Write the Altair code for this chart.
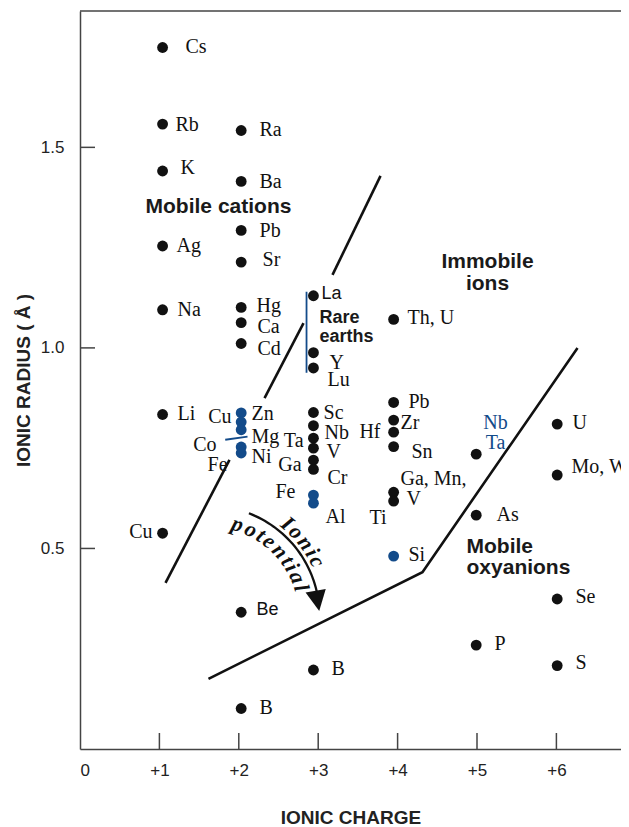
import math
import altair as alt
import pandas as pd

# ---------------- layout constants ----------------
W, H = 541, 738
PXX, PXY = 79.4, 401.1
XMAX, YMAX = W / PXX, H / PXY

INK = "#111111"
BLUE = "#134b8a"
FRAME = "#444444"
SERIF = "Liberation Serif"
SANS = "Liberation Sans"

# ---------------- data: ionic radius per charge column ----------------
col_x = [1.04, 2.03, 2.94, 3.95, 4.99, 6.01]
col1 = [1.749, 1.558, 1.441, 1.254, 1.095, 0.834, 0.538]
col2_black = [1.542, 1.415, 1.293, 1.214, 1.101, 1.063, 1.011, 0.341, 0.101]
col2_blue = [0.838, 0.815, 0.796, 0.753, 0.738]
col3_black = [1.130, 0.988, 0.950, 0.839, 0.806, 0.775, 0.750, 0.720, 0.697, 0.197]
col3_blue = [0.633, 0.613]
col4_black = [1.071, 0.864, 0.820, 0.790, 0.754, 0.640, 0.618]
col4_blue = [0.481]
col5 = [0.735, 0.583, 0.259]
col6 = [0.810, 0.683, 0.374, 0.208]

# ---------------- labels ----------------
lab_text = ["Cs", "Rb", "K", "Ag", "Na", "Li", "Cu",
            "Ra", "Ba", "Pb", "Sr", "Hg", "Ca", "Cd", "Cu", "Zn", "Mg", "Co", "Ni", "Fe", "Be", "B",
            "La", "Y", "Lu", "Sc", "Nb", "Ta", "V", "Ga", "Cr", "Fe", "Al", "B",
            "Th, U", "Pb", "Zr", "Hf", "Sn", "Ga, Mn,", "V", "Ti", "Si",
            "Nb", "Ta", "As", "P",
            "U", "Mo, W", "Se", "S"]
lab_x = [1.329, 1.203, 1.266, 1.215, 1.228, 1.228, 0.913,
         2.261, 2.261, 2.261, 2.299, 2.223, 2.235, 2.235, 1.908, 2.160, 2.160, 1.719, 2.160, 1.858, 2.223, 2.261,
         3.042, 3.142, 3.117, 3.067, 3.079, 2.815, 3.104, 2.790, 3.117, 2.714, 3.092, 3.167,
         4.125, 4.137, 4.036, 3.785, 4.175, 4.036, 4.112, 3.646, 4.137,
         5.233, 5.233, 5.246, 5.221,
         6.203, 6.190, 6.240, 6.240]
lab_y = [1.751, 1.556, 1.448, 1.254, 1.095, 0.835, 0.541,
         1.544, 1.414, 1.292, 1.219, 1.105, 1.052, 0.998, 0.828, 0.835, 0.778, 0.758, 0.728, 0.708, 0.347, 0.102,
         1.135, 0.963, 0.920, 0.838, 0.788, 0.768, 0.741, 0.708, 0.676, 0.641, 0.579, 0.200,
         1.075, 0.865, 0.813, 0.791, 0.741, 0.673, 0.623, 0.576, 0.484,
         0.813, 0.763, 0.584, 0.262,
         0.813, 0.703, 0.379, 0.214]
lab_align = ["left"] * 6 + ["right"] + \
            ["left"] * 7 + ["right", "left", "left", "right", "left", "right", "left", "left"] + \
            ["left"] * 5 + ["right", "left", "right", "left", "right", "left", "left"] + \
            ["left"] * 3 + ["right"] + ["left"] * 5 + \
            ["center", "center", "left", "left"] + ["left"] * 4
lab_kind = ["serif"] * 20 + ["sans", "serif"] + ["sans"] + ["serif"] * 11 + \
           ["serif"] * 9 + ["blue", "blue", "serif", "serif"] + ["serif"] * 4

reg_text = ["Mobile cations", "Immobile", "ions", "Mobile", "oxyanions", "Rare", "earths"]
reg_x = [1.744, 5.132, 5.132, 4.868, 4.868, 3.016, 3.016]
reg_y = [1.352, 1.214, 1.160, 0.504, 0.451, 1.075, 1.027]
reg_align = ["center", "center", "center", "left", "left", "left", "left"]
reg_kind = ["big"] * 5 + ["small"] * 2

# boundary lines (segments)
seg_id = [0, 0, 1, 1, 2, 2, 3, 3, 3]
seg_x = [1.077, 1.883, 2.324, 2.815, 3.180, 3.785, 1.618, 4.313, 6.266]
seg_y = [0.414, 0.721, 0.875, 1.062, 1.182, 1.429, 0.175, 0.441, 1.000]

# blue bracket lines
blu_id = [0, 0, 1, 1]
blu_x = [2.853, 2.853, 1.829, 2.110]
blu_y = [1.140, 0.938, 0.771, 0.779]

# ---------------- build tables ----------------
rows = []
for cx, vals, c in [(col_x[0], col1, "k"), (col_x[1], col2_black, "k"), (col_x[1], col2_blue, "b"),
                    (col_x[2], col3_black, "k"), (col_x[2], col3_blue, "b"),
                    (col_x[3], col4_black, "k"), (col_x[3], col4_blue, "b"),
                    (col_x[4], col5, "k"), (col_x[5], col6, "k")]:
    for v in vals:
        rows.append({"x": cx, "y": v, "c": c})
points = pd.DataFrame(rows)

labels = pd.DataFrame({"t": lab_text, "x": lab_x, "y": lab_y, "a": lab_align, "k": lab_kind})
regions = pd.DataFrame({"t": reg_text, "x": reg_x, "y": reg_y, "a": reg_align, "k": reg_kind})
segs = pd.DataFrame({"s": seg_id, "x": seg_x, "y": seg_y, "o": range(len(seg_x))})
blues = pd.DataFrame({"s": blu_id, "x": blu_x, "y": blu_y, "o": range(len(blu_x))})

xsc = alt.Scale(domain=[0, XMAX], nice=False, zero=False)
ysc = alt.Scale(domain=[0, YMAX], nice=False, zero=False)

AX = alt.Axis(
    values=list(range(7)),
    labelExpr="datum.value == 0 ? '0' : '+' + datum.value",
    ticks=False, grid=False, domainColor=FRAME, domainWidth=1.5,
    labelFont=SANS, labelFontSize=17, labelColor="#222", labelPadding=13,
    title="IONIC CHARGE", titleFont=SANS, titleFontSize=19, titleFontWeight="bold",
    titleColor="#222", titleY=74, titleBaseline="alphabetic")
AY = alt.Axis(
    values=[0.5, 1.0, 1.5], format=".1f",
    ticks=False, grid=False, domainColor=FRAME, domainWidth=1.5,
    labelFont=SANS, labelFontSize=17, labelColor="#222", labelPadding=16,
    title="IONIC RADIUS ( Å )", titleFont=SANS, titleFontSize=19, titleFontWeight="bold",
    titleColor="#222", titleX=-51, titleBaseline="alphabetic")


def X(f="x"):
    return alt.X(f + ":Q", scale=xsc, axis=AX)


def Y(f="y"):
    return alt.Y(f + ":Q", scale=ysc, axis=AY)


# ---------------- "Ionic potential" arrow ----------------
ARC_C = ((210 - 80.5) / PXX, (749 - 616) / PXY)   # arc centre in data units


def on_arc(r_px, deg):
    t = math.radians(deg)
    return ARC_C[0] + r_px * math.cos(t) / PXX, ARC_C[1] - r_px * math.sin(t) / PXY


arc_rows = []
for i in range(31):
    d = -69 + (56 * i / 30)
    ax, ay = on_arc(110, d)
    arc_rows.append({"x": ax, "y": ay, "o": i})
arc_df = pd.DataFrame(arc_rows)

hx, hy = on_arc(109, -8)
head_df = pd.DataFrame({"x": [hx], "y": [hy]})

CW = {"I": .389, "o": .5, "n": .556, "i": .278, "c": .444, "p": .5, "t": .278,
      "e": .444, "a": .5, "l": .278}


def word_on_arc(word, r_px, d0, d1):
    w = [CW[ch] for ch in word]
    cen = []
    s = 0
    for wi in w:
        cen.append(s + wi / 2)
        s += wi
    out = []
    for ch, cpos in zip(word, cen):
        f = (cpos - cen[0]) / (cen[-1] - cen[0])
        d = d0 + f * (d1 - d0)
        px, py = on_arc(r_px, d)
        out.append({"t": ch, "x": px, "y": py, "r": (d + 90) % 360})
    return out


arc_text = pd.DataFrame(word_on_arc("Ionic", 121, -50, -27) + word_on_arc("potential", 96, -73, -17))

# ---------------- layers ----------------
layers = []

# top frame line
top_df = pd.DataFrame({"x": [0], "x2": [XMAX], "y": [YMAX]})
layers.append(alt.Chart(top_df).mark_rule(color=FRAME, strokeWidth=1.5).encode(
    x=X(), x2="x2:Q", y=Y()))

# inward ticks
xt = pd.DataFrame({"x": [1, 2, 3, 4, 5, 6], "y": [0] * 6, "y2": [16 / PXY] * 6})
yt = pd.DataFrame({"y": [0.5, 1.0, 1.5], "x": [0] * 3, "x2": [15 / PXX] * 3})
layers.append(alt.Chart(xt).mark_rule(color=FRAME, strokeWidth=1.5).encode(x=X(), y=Y(), y2="y2:Q"))
layers.append(alt.Chart(yt).mark_rule(color=FRAME, strokeWidth=1.5).encode(y=Y(), x=X(), x2="x2:Q"))

# boundary lines
layers.append(alt.Chart(segs).mark_line(color=INK, strokeWidth=2.6).encode(
    x=X(), y=Y(), detail="s:N", order="o:Q"))
layers.append(alt.Chart(blues).mark_line(color=BLUE, strokeWidth=1.8).encode(
    x=X(), y=Y(), detail="s:N", order="o:Q"))

# arrow
layers.append(alt.Chart(arc_df).mark_line(color=INK, strokeWidth=2.3).encode(
    x=X(), y=Y(), order="o:Q"))
layers.append(alt.Chart(head_df).mark_point(
    shape="M -1 -1 L 1 -1 L 0 1 Z", filled=True, size=420, color=INK, opacity=1,
    angle=350, strokeWidth=0).encode(x=X(), y=Y()))
layers.append(alt.Chart(arc_text).mark_text(
    font=SERIF, fontSize=22, fontWeight="bold", fontStyle="italic", color=INK,
    baseline="middle", align="center").encode(
    x=X(), y=Y(), text="t:N", angle=alt.Angle("r:Q", scale=None)))

# points
layers.append(alt.Chart(points).mark_circle(size=118, opacity=1).encode(
    x=X(), y=Y(),
    color=alt.Color("c:N", scale=alt.Scale(domain=["k", "b"], range=[INK, BLUE]), legend=None)))

# element labels
styles = {"serif": (SERIF, INK), "sans": (SANS, INK), "blue": (SERIF, BLUE)}
for kind, (font, col) in styles.items():
    for al in ["left", "right", "center"]:
        sub = labels[(labels.k == kind) & (labels.a == al)]
        if len(sub) == 0:
            continue
        layers.append(alt.Chart(labels).transform_filter(
            (alt.datum.k == kind) & (alt.datum.a == al)).mark_text(
            font=font, fontSize=18 if kind == "sans" else 20, color=col,
            align=al, baseline="middle").encode(x=X(), y=Y(), text="t:N"))

# region labels
for kind, size in [("big", 21), ("small", 18)]:
    for al in ["left", "center"]:
        sub = regions[(regions.k == kind) & (regions.a == al)]
        if len(sub) == 0:
            continue
        layers.append(alt.Chart(regions).transform_filter(
            (alt.datum.k == kind) & (alt.datum.a == al)).mark_text(
            font=SANS, fontSize=size, fontWeight="bold", color="#1a1a1a",
            align=al, baseline="middle").encode(x=X(), y=Y(), text="t:N"))

chart = alt.layer(*layers).properties(
    width=W, height=H, background="white",
    autosize=alt.AutoSizeParams(type="none"),
    padding={"left": 72, "top": 3, "right": 0, "bottom": 77},
).configure_view(stroke=None)

chart.save("out.html", embed_options={"renderer": "svg", "actions": False})
